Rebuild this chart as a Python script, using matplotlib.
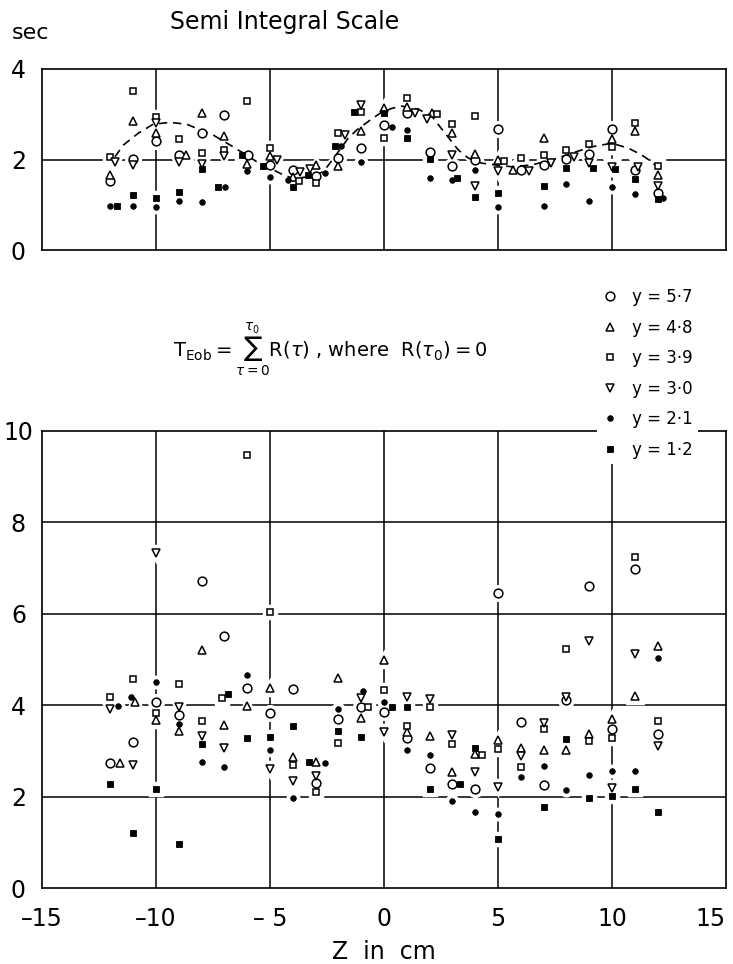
import matplotlib
matplotlib.use("Agg")
import matplotlib.pyplot as plt
from matplotlib.lines import Line2D
import matplotlib.patheffects as pe

# ---------------- data ----------------
series_labels = ["y = 5·7", "y = 4·8", "y = 3·9", "y = 3·0", "y = 2·1", "y = 1·2"]

# Semi integral scale (sec) versus Z (cm)
top_z_57 = [-12, -11, -10, -9, -8, -7, -5.95, -5, -4, -3, -2, -1, 0, 1, 2, 3, 4, 5, 6, 7, 8, 9, 10, 11, 12]
top_t_57 = [1.53, 2.01, 2.41, 2.09, 2.59, 2.98, 2.09, 1.88, 1.77, 1.64, 2.03, 2.26, 2.77, 3.02, 2.17, 1.86, 1.99, 2.67, 1.77, 1.88, 2.01, 2.12, 2.67, 1.77, 1.25]

top_z_48 = [-12, -11, -10, -8.7, -8, -7, -6, -5, -4, -3, -2, -1, 0, 1, 2.1, 3, 4, 5, 5.67, 7, 10, 11, 12]
top_t_48 = [1.66, 2.84, 2.58, 2.09, 3.03, 2.52, 1.89, 2.08, 1.62, 1.88, 1.86, 2.62, 3.13, 3.17, 3.02, 2.58, 2.12, 1.99, 1.77, 2.47, 2.45, 2.63, 1.66]

top_z_39 = [-12, -11, -10, -9, -8, -7, -6, -5, -3.74, -3, -2, -1, 0, 1, 2.31, 3, 4, 5.28, 6, 7, 8, 9, 10, 11, 12]
top_t_39 = [2.05, 3.51, 2.93, 2.46, 2.14, 2.22, 3.30, 2.25, 1.53, 1.47, 2.58, 3.04, 2.47, 3.37, 3.00, 2.78, 2.97, 1.97, 2.04, 2.10, 2.21, 2.34, 2.28, 2.80, 1.86]

top_z_30 = [-11.8, -11, -10, -9, -8, -7, -4.68, -3.7, -3.25, -1.71, -1, 1.36, 1.87, 3, 4, 5, 6.36, 7.31, 8.32, 9, 10, 11.15, 12]
top_t_30 = [1.95, 1.88, 2.80, 1.95, 1.91, 2.08, 2.00, 1.72, 1.78, 2.54, 3.20, 3.02, 2.89, 2.10, 1.41, 1.75, 1.75, 1.92, 2.06, 1.92, 1.83, 1.83, 1.41]

top_z_21 = [-12, -11, -10, -9, -8, -6.97, -6, -5, -4.2, -2.59, -1.9, -1, 0.35, 1, 2, 3, 4, 5, 7, 8, 9, 10, 11, 12.25]
top_t_21 = [0.98, 0.98, 0.96, 1.09, 1.05, 1.39, 1.75, 1.61, 1.55, 1.71, 2.30, 1.95, 2.72, 2.65, 1.60, 1.55, 1.77, 0.94, 0.97, 1.46, 1.09, 1.39, 1.24, 1.14]

top_z_12 = [-11.7, -11, -10, -9, -8, -7.3, -6.24, -5.29, -4, -3.32, -2.15, -1.3, 0, 1, 2, 3.19, 4, 5, 7, 8, 9.18, 10.13, 11, 12]
top_t_12 = [0.98, 1.22, 1.16, 1.29, 1.78, 1.39, 2.09, 1.86, 1.40, 1.66, 2.30, 3.04, 3.02, 2.47, 2.01, 1.60, 1.18, 1.27, 1.41, 1.81, 1.81, 1.79, 1.58, 1.12]

# hand-faired mean curve through the upper panel
curve_z = [-11.8, -11.43, -10.78, -10.12, -9.39, -8.65, -8.14, -7.49, -6.75, -6.17, -5.58, -5.0, -4.42, -3.98,
           -3.25, -2.66, -2.37, -1.57, -1.2, -0.61, -0.18, 0.34, 0.78, 1.51, 2.09, 2.68, 3.26, 3.7, 4.28, 4.87,
           5.6, 6.48, 7.36, 8.23, 9.11, 9.99, 10.72, 11.3, 11.74, 12.18]
curve_t = [2.06, 2.32, 2.58, 2.78, 2.82, 2.78, 2.67, 2.54, 2.32, 2.14, 1.95, 1.81, 1.66, 1.58,
           1.62, 1.73, 1.92, 2.47, 2.65, 2.87, 3.02, 3.13, 3.18, 3.11, 2.96, 2.58, 2.21, 2.03, 1.92, 1.88,
           1.84, 1.88, 1.99, 2.14, 2.28, 2.36, 2.25, 2.10, 1.95, 1.73]

# T_Eob (sec) versus Z (cm)
bot_z_57 = [-12, -11, -10, -9, -8, -7, -6, -5, -4, -3, -2, -1, 0, 1, 2, 3, 4, 5, 6, 7, 8, 9, 10, 11, 12]
bot_t_57 = [2.74, 3.20, 4.06, 3.79, 6.72, 5.51, 4.37, 3.84, 4.35, 2.29, 3.70, 3.97, 3.86, 3.28, 2.63, 2.27, 2.17, 6.45, 3.63, 2.25, 4.11, 6.61, 3.47, 6.98, 3.36]

bot_z_48 = [-11.58, -10.92, -10, -9, -8, -7, -6, -5, -4, -2.97, -2, -1, 0, 1, 2, 3, 4, 5, 6, 7, 8, 9, 10, 11, 12]
bot_t_48 = [2.74, 4.06, 3.68, 3.44, 5.21, 3.57, 3.98, 4.37, 2.87, 2.76, 4.60, 3.73, 5.00, 3.42, 3.33, 2.54, 2.93, 3.24, 3.06, 3.03, 3.03, 3.38, 3.69, 4.20, 5.30]

bot_z_39 = [-12, -11, -10, -9, -8, -7.12, -6, -5, -4, -3, -2, -0.7, 0, 1, 2, 3, 4.28, 5, 6, 7, 8, 9, 10, 11, 12]
bot_t_39 = [4.17, 4.57, 3.84, 4.46, 3.66, 4.16, 9.47, 6.03, 2.69, 2.11, 3.17, 3.95, 4.33, 3.55, 3.95, 3.15, 2.91, 3.04, 2.64, 3.48, 5.22, 3.22, 3.28, 7.25, 3.65]

bot_z_30 = [-12, -11, -10, -9, -8, -7, -5, -4, -3, -1, 0, 1, 2, 3, 4, 5, 6, 7, 8, 9, 10, 11, 12]
bot_t_30 = [3.91, 2.69, 7.32, 3.95, 3.33, 3.06, 2.60, 2.35, 2.45, 4.15, 3.42, 4.18, 4.13, 3.35, 2.54, 2.22, 2.89, 3.62, 4.19, 5.40, 2.18, 5.11, 3.11]

bot_z_21 = [-11.65, -11.1, -10, -9, -8, -7, -6, -5, -4, -2.59, -2, -0.91, 0, 1, 2, 3, 4, 5, 6, 7, 8, 9, 10, 11, 12]
bot_t_21 = [3.98, 4.17, 4.50, 3.59, 2.76, 2.65, 4.66, 3.03, 1.98, 2.74, 3.91, 4.30, 4.08, 3.02, 2.91, 1.90, 1.66, 1.63, 2.42, 2.67, 2.14, 2.47, 2.56, 2.56, 5.03]

bot_z_12 = [-12, -11, -10, -9, -8, -6.83, -6, -5, -4, -3.29, -2, -1, 0.34, 1, 2, 3.33, 4, 5, 7, 8, 9, 10, 11, 12]
bot_t_12 = [2.27, 1.20, 2.17, 0.96, 3.15, 4.24, 3.28, 3.30, 3.54, 2.76, 3.44, 3.31, 3.97, 3.95, 2.17, 2.27, 3.06, 1.07, 1.77, 3.25, 1.98, 2.01, 2.16, 1.66]

x_ticks = [-15, -10, -5, 0, 5, 10, 15]
x_tick_labels = ["\u201315", "\u201310", "\u2013 5", "0", "5", "10", "15"]
top_y_ticks = [0, 2, 4]
bot_y_ticks = [0, 2, 4, 6, 8, 10]

# ---------------- styling ----------------
plt.rcParams["font.family"] = ["DejaVu Sans"]

styles = [
    dict(marker="o", ms=6.3, mfc="white", mec="black", mew=1.1),
    dict(marker="^", ms=6.3, mfc="white", mec="black", mew=1.1),
    dict(marker="s", ms=4.8, mfc="white", mec="black", mew=1.1),
    dict(marker="v", ms=6.3, mfc="white", mec="black", mew=1.1),
    dict(marker="o", ms=4.0, mfc="black", mec="black", mew=0.6),
    dict(marker="s", ms=4.6, mfc="black", mec="black", mew=0.6),
]

fig = plt.figure(figsize=(7.33, 9.64), dpi=100)
W, H = 733.0, 964.0
ax_top = fig.add_axes([42 / W, (H - 250) / H, 684 / W, 181 / H])
ax_bot = fig.add_axes([42 / W, (H - 888) / H, 684 / W, 457 / H])


def draw_panel(ax, zs, ts, ymax, yticks, grid_y):
    ax.set_xlim(-15, 15)
    ax.set_ylim(0, ymax)
    for gx in [-10, -5, 0, 5, 10]:
        ax.axvline(gx, color="black", lw=1.1, zorder=1)
    for gy in grid_y:
        ax.axhline(gy, color="black", lw=1.1, zorder=1)
    # white clearance behind every symbol so the grid breaks around it
    for z, t, st in zip(zs, ts, styles):
        ax.plot(z, t, ls="none", marker=st["marker"], ms=st["ms"] + 3.5,
                mfc="white", mec="white", mew=2.5, zorder=2)
    handles = []
    for z, t, st in zip(zs, ts, styles):
        h, = ax.plot(z, t, ls="none", zorder=3, **st)
        handles.append(h)
    ax.set_xticks(x_ticks)
    ax.set_yticks(yticks)
    ax.tick_params(length=0, labelsize=17)
    ax.tick_params(axis="y", pad=17)
    for lbl in ax.get_yticklabels():
        lbl.set_horizontalalignment("center")
    for sp in ax.spines.values():
        sp.set_linewidth(1.2)
    return handles


draw_panel(ax_top,
           [top_z_57, top_z_48, top_z_39, top_z_30, top_z_21, top_z_12],
           [top_t_57, top_t_48, top_t_39, top_t_30, top_t_21, top_t_12],
           4, top_y_ticks, [2])
ax_top.plot(curve_z, curve_t, color="black", lw=1.2, ls=(0, (5, 3.5)), zorder=2.5,
            path_effects=[pe.Stroke(linewidth=4, foreground="white"), pe.Normal()])
ax_top.set_xticklabels([])

draw_panel(ax_bot,
           [bot_z_57, bot_z_48, bot_z_39, bot_z_30, bot_z_21, bot_z_12],
           [bot_t_57, bot_t_48, bot_t_39, bot_t_30, bot_t_21, bot_t_12],
           10, bot_y_ticks, [2, 4, 6, 8])
ax_bot.set_xticklabels(x_tick_labels)
ax_bot.tick_params(axis="x", pad=14)
ax_bot.get_xticklabels()[-1].set_horizontalalignment("right")
ax_bot.set_xlabel("Z  in  cm", fontsize=17, labelpad=6)

# titles and annotations
fig.text(31 / W, 1 - 33 / H, "sec", ha="center", va="center", fontsize=16)
fig.text(285 / W, 1 - 22 / H, "Semi Integral Scale", ha="center", va="center", fontsize=17)
fig.text(330 / W, 1 - 350 / H,
         r"$\mathregular{T_{Eob}}=\sum_{\tau=0}^{\tau_0}\mathregular{R}(\tau)$ , where  $\mathregular{R}(\tau_0)=0$",
         ha="center", va="center", fontsize=14)

leg_handles = [Line2D([], [], ls="none", **st) for st in styles]
leg = fig.legend(leg_handles, series_labels, loc="upper left",
                 bbox_to_anchor=(597 / W, 1 - 283 / H), frameon=True,
                 facecolor="white", edgecolor="none", framealpha=1,
                 fontsize=12, handlelength=1.0, handletextpad=0.8,
                 labelspacing=0.75, borderpad=0.3, borderaxespad=0)

fig.savefig("out.png", dpi=100)
